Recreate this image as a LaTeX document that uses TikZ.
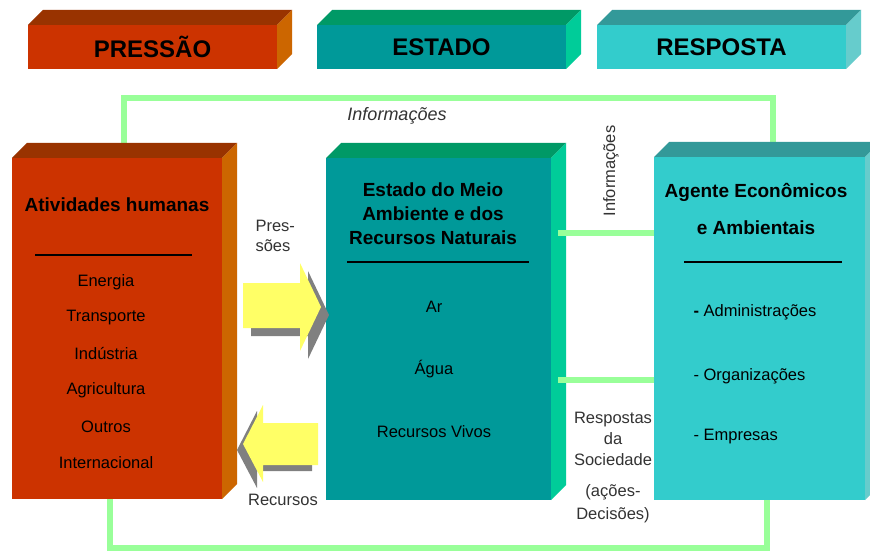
\documentclass[tikz,border=0pt]{standalone}
\usepackage{fontspec}
\setmainfont{Liberation Sans}
\usetikzlibrary{positioning}

\definecolor{pfront}{HTML}{CC3300}
\definecolor{ptop}{HTML}{993300}
\definecolor{pside}{HTML}{CC6600}
\definecolor{efront}{HTML}{009999}
\definecolor{etop}{HTML}{009966}
\definecolor{eside}{HTML}{00CC99}
\definecolor{rfront}{HTML}{33CCCC}
\definecolor{rtop}{HTML}{339999}
\definecolor{rside}{HTML}{66CCCC}
\definecolor{linkgreen}{HTML}{99FF99}
\definecolor{arrowyellow}{HTML}{FFFF66}
\definecolor{arrowgray}{HTML}{808080}
\definecolor{lbltext}{HTML}{333333}

\pgfdeclarelayer{bg}
\pgfsetlayers{bg,main}

\tikzset{
  face/.style={inner sep=0pt, outer sep=0pt, anchor=north west},
  headtext/.style={font=\fontsize{24}{28}\selectfont\bfseries},
  titletext/.style={font=\fontsize{19}{24}\selectfont\bfseries, align=center},
  itemtext/.style={font=\fontsize{16.5}{20}\selectfont},
  lbl/.style={font=\fontsize{16.5}{21}\selectfont, text=lbltext, align=center},
  link/.style={draw=linkgreen, line width=6pt},
  rule/.style={draw=black, line width=1.4pt}
}

% top and side faces of a box node
\newcommand\boxfaces[3]{%
  \fill[#2] (#1.north west) -- ++(15,-15) -- ([shift={(15,-15)}]#1.north east) -- (#1.north east) -- cycle;
  \fill[#3] (#1.north east) -- ++(15,-15) -- ([shift={(15,-15)}]#1.south east) -- (#1.south east) -- cycle;
}

\begin{document}
\begin{tikzpicture}[x=1pt,y=-1pt]
  \useasboundingbox (0,0) rectangle (870,556);

  \node[face, fill=pfront, minimum width=249pt, minimum height=44pt, headtext] (hpres) at (28,25) {PRESSÃO};
  \node[face, fill=efront, minimum width=249pt, minimum height=44pt, headtext] (hest) at (317,25) {ESTADO};
  \node[face, fill=rfront, minimum width=249pt, minimum height=44pt, headtext] (hresp) at (597,25) {RESPOSTA};
  \boxfaces{hpres}{ptop}{pside}
  \boxfaces{hest}{etop}{eside}
  \boxfaces{hresp}{rtop}{rside}

  \node[face, fill=pfront, minimum width=210pt, minimum height=341pt] (act) at (12,158) {};
  \node[face, fill=efront, minimum width=225pt, minimum height=342pt] (est) at (326,158) {};
  \node[face, fill=rfront, minimum width=211pt, minimum height=343pt] (age) at (654,157) {};
  \boxfaces{act}{ptop}{pside}
  \boxfaces{est}{etop}{eside}
  \boxfaces{age}{rtop}{rside}

  \coordinate (t1) at (124,98);
  \coordinate (t2) at (773,98);
  \coordinate (b1) at (110,548);
  \coordinate (b2) at (767,548);
  \coordinate (i1) at (558,233);
  \coordinate (i2) at (558,380);
  \begin{pgfonlayer}{bg}
    \fill[white] (0,0) rectangle (870,556);
    \draw[link] (act.north -| t1) -- (t1) -- (t2) -- (age.north -| t2);
    \draw[link] (act.south -| b1) -- (b1) -- (b2) -- (age.south -| b2);
  \end{pgfonlayer}
  \draw[link] (i1) -- (age.west |- i1);
  \draw[link] (i2) -- (age.west |- i2);

  \foreach \d/\c in {8/arrowgray,0/arrowyellow}
    \fill[\c, shift={(\d,\d)}] (243,283) -- (300,283) -- (300,263) -- (321,307)
      -- (300,351) -- (300,328) -- (243,328) -- cycle;
  \foreach \d/\c in {6/arrowgray,0/arrowyellow}
    \fill[\c, shift={(-\d,\d)}] (318,423) -- (263,423) -- (263,405) -- (243,444)
      -- (263,482) -- (263,465) -- (318,465) -- cycle;

  \node[titletext] (acttitle) at (117,205) {Atividades humanas};
  \draw[rule] (35,255) -- (192,255);
  \foreach \t/\y in {Energia/282,Transporte/318,Indústria/354,Agricultura/390,Outros/427,Internacional/463}
    \node[itemtext] at (106,\y) {\t};

  \node[titletext] (esttitle) at (433,214) {Estado do Meio\\Ambiente e dos\\Recursos Naturais};
  \draw[rule] (347,262) -- (529,262);
  \node[itemtext] (ar) at (434,307) {Ar};
  \node[itemtext] (agua) at (434,369) {Água};
  \node[itemtext] (vivos) at (434,432) {Recursos Vivos};

  \node[titletext, font=\fontsize{19}{37}\selectfont\bfseries] (agetitle) at (756,209) {Agente Econômicos\\e Ambientais};
  \draw[rule] (684,262) -- (842,262);
  \node[itemtext, anchor=west] (adm) at (690,312) {\textbf{-} Administrações};
  \node[itemtext, anchor=west] (org) at (690,376) {- Organizações};
  \node[itemtext, anchor=west] (emp) at (690,437) {- Empresas};

  \node[lbl, font=\fontsize{18}{21}\selectfont\itshape] (info) at (397,116) {Informações};
  \node[lbl, rotate=90] (infov) at (611,171) {Informações};
  \node[lbl, align=left, anchor=west, font=\fontsize{16.5}{20}\selectfont] (pres) at (252,236) {Pres-\\sões};
  \node[lbl] (recur) at (283,500) {Recursos};
  \node[lbl] (resp) at (613,439) {Respostas\\da\\Sociedade};
  \node[lbl, font=\fontsize{16.5}{23}\selectfont] (acoes) at (613,504) {(ações-\\Decisões)};
\end{tikzpicture}
\end{document}
